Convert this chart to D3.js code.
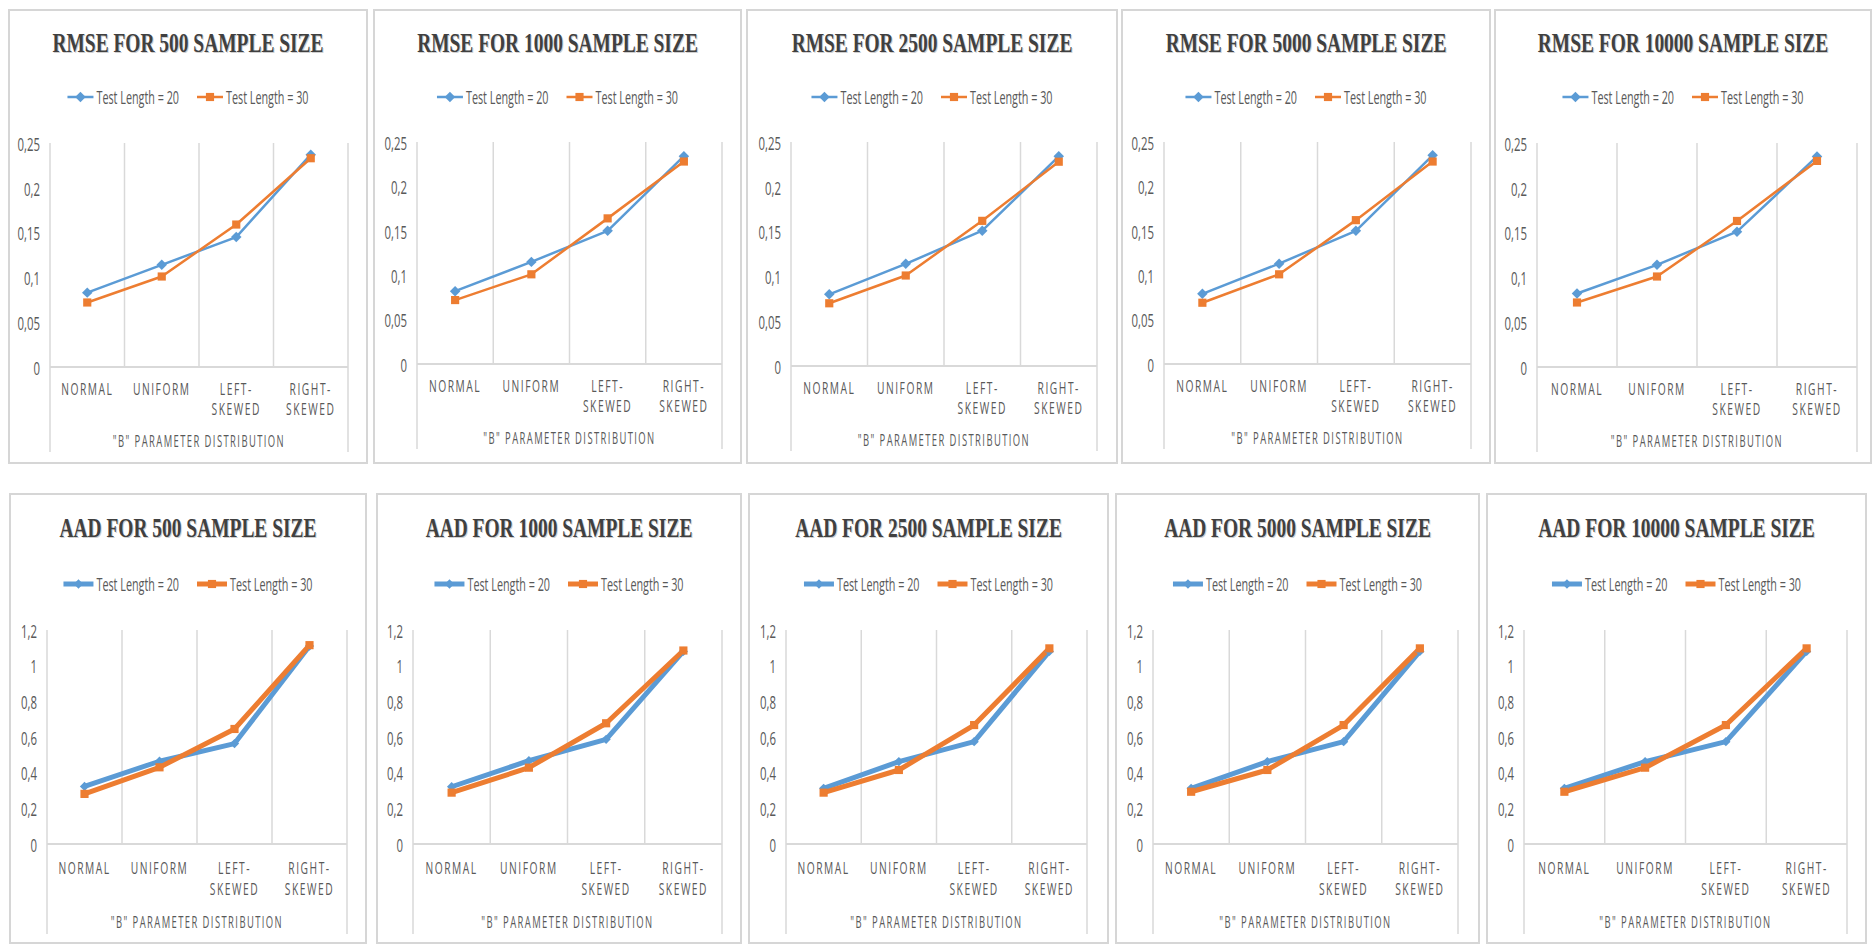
<!DOCTYPE html>
<html>
<head>
<meta charset="utf-8">
<script src="https://cdn.jsdelivr.net/npm/d3@7"></script>
<style>
  html, body { margin: 0; padding: 0; background: #ffffff; }
  svg { display: block; }
</style>
</head>
<body>
<svg id="chart" width="1872" height="944"></svg>
<script>
// ---- data -------------------------------------------------------------
const sampleSizes = [500, 1000, 2500, 5000, 10000];
const distributions = ["NORMAL", "UNIFORM", "LEFT-SKEWED", "RIGHT-SKEWED"];
const distributionLines = [["NORMAL"], ["UNIFORM"], ["LEFT-", "SKEWED"], ["RIGHT-", "SKEWED"]];
const seriesLabels = ["Test Length = 20", "Test Length = 30"];
const axisTitle = "\"B\" PARAMETER DISTRIBUTION";

// RMSE, one row per sample size, one value per distribution
const rmseLength20 = [
  [0.083, 0.114, 0.145, 0.237],
  [0.082, 0.115, 0.150, 0.234],
  [0.080, 0.114, 0.151, 0.234],
  [0.079, 0.113, 0.150, 0.235],
  [0.082, 0.114, 0.151, 0.235]
];
const rmseLength30 = [
  [0.072, 0.101, 0.159, 0.233],
  [0.072, 0.101, 0.164, 0.228],
  [0.070, 0.101, 0.162, 0.228],
  [0.069, 0.101, 0.162, 0.228],
  [0.072, 0.101, 0.163, 0.230]
];
// AAD, one row per sample size
const aadLength20 = [
  [0.323, 0.464, 0.563, 1.110],
  [0.321, 0.467, 0.587, 1.080],
  [0.312, 0.462, 0.574, 1.080],
  [0.312, 0.462, 0.574, 1.080],
  [0.312, 0.462, 0.574, 1.080]
];
const aadLength30 = [
  [0.281, 0.430, 0.645, 1.115],
  [0.288, 0.428, 0.677, 1.085],
  [0.288, 0.415, 0.667, 1.097],
  [0.293, 0.415, 0.667, 1.097],
  [0.293, 0.428, 0.667, 1.097]
];

const rmseTicks = [0, 0.05, 0.1, 0.15, 0.2, 0.25];
const rmseTickLabels = ["0", "0,05", "0,1", "0,15", "0,2", "0,25"];
const aadTicks = [0, 0.2, 0.4, 0.6, 0.8, 1, 1.2];
const aadTickLabels = ["0", "0,2", "0,4", "0,6", "0,8", "1", "1,2"];

// ---- layout -----------------------------------------------------------
// frame [x0, x1] and plot [left, right, top, bottom] per column, per row
const rmseFrames = [[9, 367], [374, 741], [747, 1117], [1122, 1490], [1495, 1871]];
const rmsePlots  = [[50, 348, 143, 367], [417, 722, 142, 364], [791, 1097, 142, 366], [1164, 1471, 142, 364], [1537, 1857, 143, 367]];
const aadFrames  = [[10, 366], [377, 741], [749, 1108], [1116, 1479], [1487, 1866]];
const aadPlots   = [[47, 347, 630, 844], [413, 722, 630, 844], [786, 1087, 630, 844], [1153, 1458, 630, 844], [1524, 1847, 630, 844]];

const BLUE = "#5b9bd5", ORANGE = "#ed7d31", GRID = "#d9d9d9", TEXT = "#595959";
const SANS = "'Open Sans', 'Liberation Sans', sans-serif";
const SERIF = "'Liberation Serif', 'DejaVu Serif', serif";

const svg = d3.select("#chart");

// text drawn in a horizontally condensed form (scale on x only)
function label(parent, x, y, str, o) {
  const t = parent.append("text")
    .attr("transform", `translate(${x},${y}) scale(${o.k},1)`)
    .attr("text-anchor", o.anchor || "middle")
    .attr("dominant-baseline", "central")
    .attr("font-family", o.family || SANS)
    .attr("font-weight", o.weight || "normal")
    .attr("font-size", o.size)
    .attr("letter-spacing", o.ls || 0)
    .attr("fill", o.fill || TEXT)
    .text(str);
  if (o.opacity != null) t.attr("opacity", o.opacity);
  return t;
}

const diamond = d3.symbol().type(d3.symbolDiamond2);
const square = d3.symbol().type(d3.symbolSquare2);

function drawPanel(opt) {
  const g = svg.append("g");
  const [fx0, fx1] = opt.frame;
  const [pl, pr, pt, pb] = opt.plot;
  const cx = (fx0 + fx1) / 2;

  // frame
  g.append("rect")
    .attr("x", fx0).attr("y", opt.frameTop)
    .attr("width", fx1 - fx0).attr("height", opt.frameBottom - opt.frameTop)
    .attr("fill", "#fff").attr("stroke", "#d6d6d6").attr("stroke-width", 2);

  // title with a faint shadow
  const ty = opt.frameTop + opt.titleDy;
  label(g, cx + 1, ty + 1, opt.title, { k: 0.72, size: 27, family: SERIF, weight: "bold", fill: "#b0b0b0", opacity: 0.6 });
  label(g, cx, ty, opt.title, { k: 0.72, size: 27, family: SERIF, weight: "bold", fill: "#404040" });

  // scales
  const x = d3.scaleBand().domain(distributions).range([pl, pr]).padding(0);
  const y = d3.scaleLinear().domain([0, d3.max(opt.ticks)]).range([pb, pt]);
  const xc = d => x(d) + x.bandwidth() / 2;

  // vertical category separators
  const bounds = distributions.map(d => x(d)).concat([pr]);
  g.append("g").selectAll("line").data(bounds).join("line")
    .attr("x1", d => d).attr("x2", d => d)
    .attr("y1", pt)
    .attr("y2", (d, i) => (i === 0 || i === bounds.length - 1) ? pb + opt.outerExt : pb)
    .attr("stroke", GRID).attr("stroke-width", 1.5);

  // zero line
  g.append("line")
    .attr("x1", pl).attr("x2", pr).attr("y1", y(0)).attr("y2", y(0))
    .attr("stroke", GRID).attr("stroke-width", 2);

  // y axis labels
  const kY = 0.6, padY = 10;
  const yAxis = d3.axisLeft(y).tickValues(opt.ticks)
    .tickFormat((d, i) => opt.tickLabels[i]).tickSize(0).tickPadding(padY);
  const ya = g.append("g").attr("transform", `translate(${pl},0)`).call(yAxis);
  ya.select(".domain").remove();
  ya.selectAll("text")
    .attr("font-family", SANS).attr("font-size", 19).attr("fill", TEXT)
    .attr("dy", null).attr("dominant-baseline", "central")
    .attr("x", -padY / kY).attr("transform", `scale(${kY},1)`);

  // category labels
  distributions.forEach((d, i) => {
    distributionLines[i].forEach((ln, j) => {
      label(g, xc(d), pb + opt.catDy + j * opt.catGap, ln, { k: 0.64, size: 16, ls: 2.4 });
    });
  });
  label(g, (pl + pr) / 2, pb + opt.axisTitleDy, axisTitle, { k: 0.59, size: 16, ls: 2.4 });

  // series
  const series = [
    { label: seriesLabels[0], values: opt.s20, color: BLUE, sym: diamond, size: opt.diamondSize },
    { label: seriesLabels[1], values: opt.s30, color: ORANGE, sym: square, size: opt.squareSize }
  ];
  const line = d3.line().x((v, i) => xc(distributions[i])).y(v => y(v));
  series.forEach(s => {
    g.append("path").attr("d", line(s.values))
      .attr("fill", "none").attr("stroke", s.color)
      .attr("stroke-width", opt.lineWidth).attr("stroke-linejoin", "round");
  });
  series.forEach(s => {
    g.append("g").selectAll("path").data(s.values).join("path")
      .attr("transform", (v, i) => `translate(${xc(distributions[i])},${y(v)})`)
      .attr("d", s.sym.size(s.size)())
      .attr("fill", s.color);
  });

  // legend
  const kL = 0.6;
  const legY = opt.frameTop + opt.legendDy;
  const lg = g.append("g");
  let cursor = 0;
  series.forEach((s, i) => {
    const item = lg.append("g").attr("transform", `translate(${cursor},0)`);
    item.append("line").attr("x1", 0).attr("x2", opt.legLine).attr("y1", 0).attr("y2", 0)
      .attr("stroke", s.color).attr("stroke-width", opt.lineWidth);
    item.append("path").attr("transform", `translate(${opt.legLine / 2},0)`)
      .attr("d", s.sym.size(s.size)()).attr("fill", s.color);
    const t = label(item, opt.legLine + 3, 0, s.label, { k: kL, size: 18, anchor: "start" });
    const w = t.node().getComputedTextLength() * kL;
    cursor += opt.legLine + 3 + w + (i === 0 ? 18 : 0);
  });
  lg.attr("transform", `translate(${cx - cursor / 2},${legY})`);
}

sampleSizes.forEach((n, i) => {
  drawPanel({
    title: `RMSE FOR ${n} SAMPLE SIZE`,
    frame: rmseFrames[i], plot: rmsePlots[i],
    frameTop: 10, frameBottom: 463,
    titleDy: 33, legendDy: 87,
    ticks: rmseTicks, tickLabels: rmseTickLabels,
    s20: rmseLength20[i], s30: rmseLength30[i],
    lineWidth: 2.5, diamondSize: 70, squareSize: 85, legLine: 26,
    catDy: 22, catGap: 20, axisTitleDy: 74, outerExt: 85
  });
  drawPanel({
    title: `AAD FOR ${n} SAMPLE SIZE`,
    frame: aadFrames[i], plot: aadPlots[i],
    frameTop: 494, frameBottom: 943,
    titleDy: 34, legendDy: 90,
    ticks: aadTicks, tickLabels: aadTickLabels,
    s20: aadLength20[i], s30: aadLength30[i],
    lineWidth: 5, diamondSize: 55, squareSize: 85, legLine: 30,
    catDy: 24, catGap: 21, axisTitleDy: 78, outerExt: 90
  });
});
</script>
</body>
</html>
